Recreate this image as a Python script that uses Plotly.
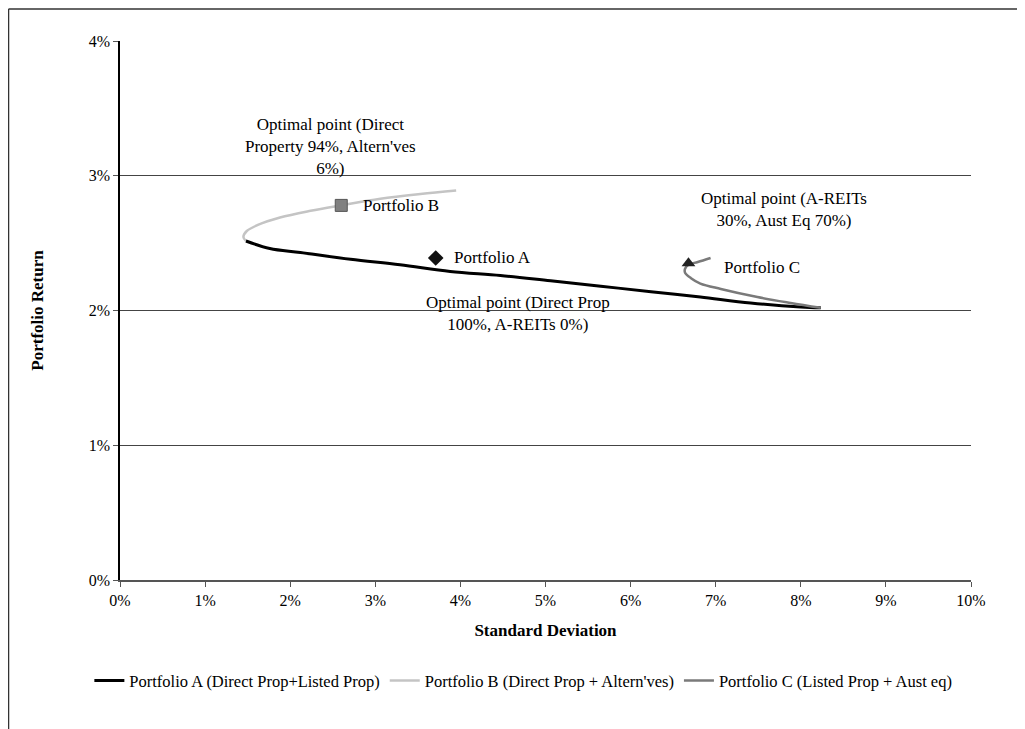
import plotly.graph_objects as go

# Efficient frontier data (standard deviation %, return %)
a_sd = [1.48, 1.76, 2.12, 2.71, 3.29, 3.88, 4.47, 5.06, 5.65, 6.24, 6.82, 7.41, 8.00, 8.235]
a_ret = [2.516, 2.46, 2.43, 2.38, 2.34, 2.29, 2.26, 2.22, 2.18, 2.14, 2.10, 2.056, 2.026, 2.02]

b_sd = [1.48, 1.45, 1.49, 1.62, 1.88, 2.24, 2.59, 3.06, 3.53, 3.95]
b_ret = [2.516, 2.545, 2.59, 2.635, 2.69, 2.74, 2.78, 2.83, 2.865, 2.89]

c_sd = [8.235, 7.88, 7.49, 7.06, 6.82, 6.71, 6.64, 6.64, 6.68, 6.79, 6.94]
c_ret = [2.02, 2.056, 2.10, 2.16, 2.20, 2.24, 2.28, 2.31, 2.34, 2.36, 2.39]

# Portfolio points
pa = (3.71, 2.39)
pb = (2.60, 2.78)
pc = (6.68, 2.35)

series_names = [
    "Portfolio A (Direct Prop+Listed Prop)",
    "Portfolio B (Direct Prop + Altern'ves)",
    "Portfolio C (Listed Prop + Aust eq)",
]

x_ticks = list(range(0, 11))
x_labels = [f"{v}%" for v in x_ticks]
y_ticks = list(range(0, 5))
y_labels = [f"{v}%" for v in y_ticks]

FONT = "Liberation Serif, Times New Roman, serif"

fig = go.Figure()
fig.add_trace(go.Scatter(x=b_sd, y=b_ret, mode="lines", name=series_names[1],
                         line=dict(color="#c4c4c4", width=2.5, shape="spline")))
fig.add_trace(go.Scatter(x=a_sd, y=a_ret, mode="lines", name=series_names[0],
                         line=dict(color="#000000", width=3, shape="spline")))
fig.add_trace(go.Scatter(x=c_sd, y=c_ret, mode="lines", name=series_names[2],
                         line=dict(color="#7a7a7a", width=2.5, shape="spline")))

fig.add_trace(go.Scatter(x=[pa[0]], y=[pa[1]], mode="markers", showlegend=False,
                         marker=dict(symbol="diamond", size=12, color="#111111")))
fig.add_trace(go.Scatter(x=[pb[0]], y=[pb[1]], mode="markers", showlegend=False,
                         marker=dict(symbol="square", size=12, color="#808080",
                                     line=dict(color="#555555", width=1))))
fig.add_trace(go.Scatter(x=[pc[0]], y=[pc[1]], mode="markers", showlegend=False,
                         marker=dict(symbol="triangle-up", size=12, color="#222222")))

ann_font = dict(family=FONT, size=17, color="#000000")
annotations = [
    dict(x=2.47, y=3.22, text="Optimal point (Direct<br>Property 94%, Altern'ves<br>6%)",
         xanchor="center", yanchor="middle"),
    dict(x=2.835, y=2.78, text="Portfolio B", xanchor="left", yanchor="middle"),
    dict(x=3.90, y=2.39, text="Portfolio A", xanchor="left", yanchor="middle"),
    dict(x=4.68, y=1.98, text="Optimal point (Direct Prop<br>100%, A-REITs 0%)",
         xanchor="center", yanchor="middle"),
    dict(x=7.80, y=2.75, text="Optimal point (A-REITs<br>30%, Aust Eq 70%)",
         xanchor="center", yanchor="middle"),
    dict(x=7.07, y=2.32, text="Portfolio C", xanchor="left", yanchor="middle"),
]
for a in annotations:
    a.update(xref="x", yref="y", showarrow=False, font=ann_font)

fig.update_layout(
    width=1025, height=729,
    margin=dict(l=112, r=62, t=33, b=157),
    paper_bgcolor="white", plot_bgcolor="white",
    font=dict(family=FONT, size=16, color="#000000"),
    annotations=annotations,
    showlegend=True,
    legend=dict(orientation="h", x=-0.036, xanchor="left", y=-0.187, yanchor="middle",
                font=dict(family=FONT, size=16.5), traceorder="normal",
                itemwidth=30),
    shapes=[
        dict(type="line", xref="paper", yref="paper", x0=-0.131, x1=-0.131,
             y0=-0.3, y1=1.0594, line=dict(color="#333333", width=1.5)),
        dict(type="line", xref="paper", yref="paper", x0=-0.131, x1=1.1,
             y0=1.0594, y1=1.0594, line=dict(color="#333333", width=1.5)),
    ],
)
fig.update_xaxes(range=[0, 10], tickmode="array", tickvals=x_ticks, ticktext=x_labels,
                 showgrid=False, zeroline=False, showline=True, linecolor="#555555",
                 linewidth=1.5, ticks="outside", ticklen=5, tickcolor="#555555",
                 tickfont=dict(family=FONT, size=16),
                 title=dict(text="<b>Standard Deviation</b>", font=dict(family=FONT, size=17),
                            standoff=16))
fig.update_yaxes(range=[0, 4], tickmode="array", tickvals=y_ticks, ticktext=y_labels,
                 showgrid=True, gridcolor="#444444", gridwidth=1, zeroline=False,
                 showline=True, linecolor="#000000", linewidth=1.5, ticks="outside",
                 ticklen=5, tickcolor="#555555", tickfont=dict(family=FONT, size=16),
                 title=dict(text="<b>Portfolio Return</b>", font=dict(family=FONT, size=17),
                            standoff=41))

fig.data[0].legendrank = 2
fig.data[1].legendrank = 1
fig.data[2].legendrank = 3

fig.write_html("out.html")
